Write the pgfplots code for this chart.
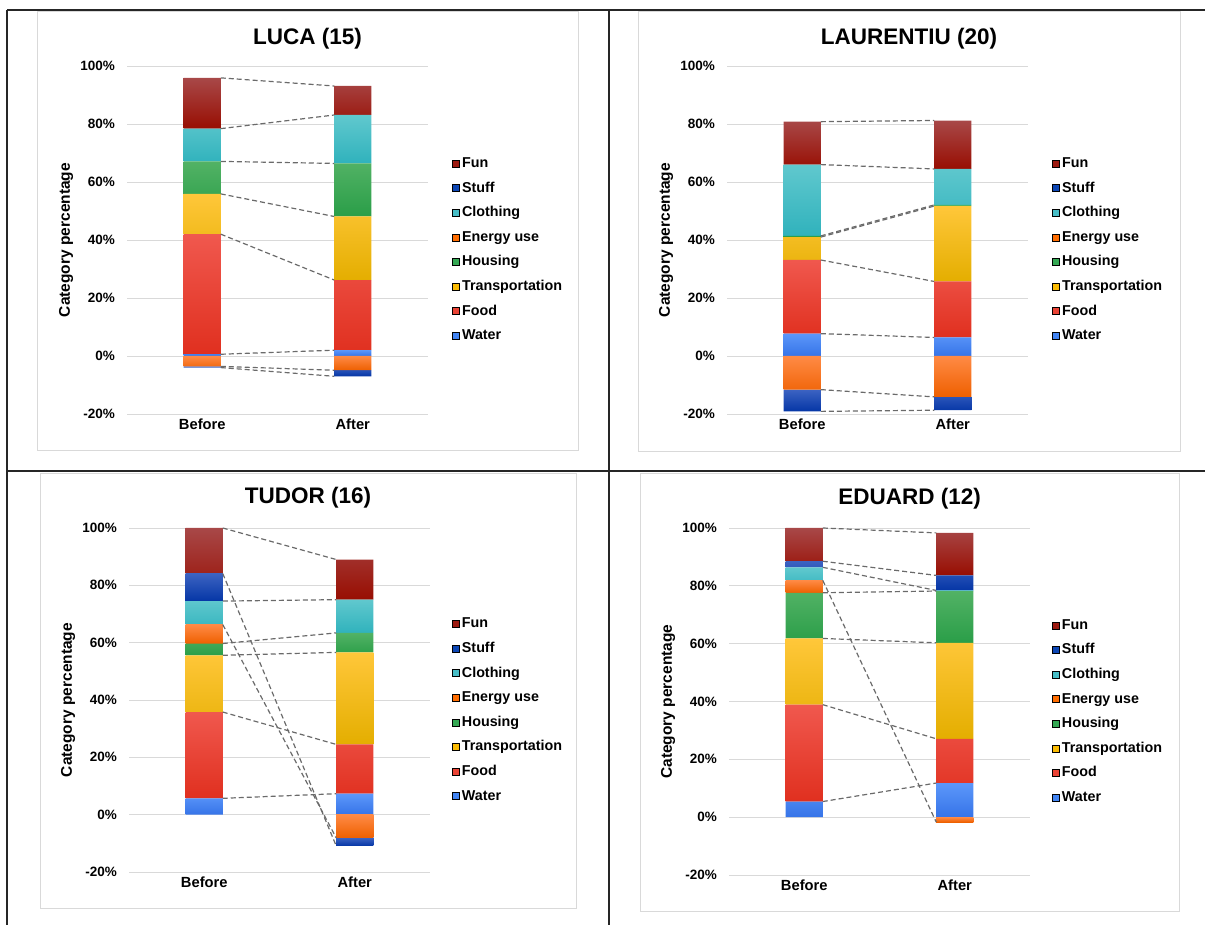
\documentclass[border=0pt]{standalone}
\usepackage{fontspec}
\setmainfont{Liberation Sans}
\usepackage{pgfplots}
\pgfplotsset{compat=1.18}
% colours (top / bottom of gradient, legend colour)
\definecolor{Wt}{HTML}{5C97FA}\definecolor{Wb}{HTML}{3674E8}\definecolor{Wl}{HTML}{4285F4}
\definecolor{Ft}{HTML}{F0584E}\definecolor{Fb}{HTML}{E0301F}\definecolor{Fl}{HTML}{EA4335}
\definecolor{Tt}{HTML}{FFC73A}\definecolor{Tb}{HTML}{E4AE00}\definecolor{Tl}{HTML}{FBBC04}
\definecolor{Ht}{HTML}{52B265}\definecolor{Hb}{HTML}{2A9E48}\definecolor{Hl}{HTML}{34A853}
\definecolor{Et}{HTML}{FF8A45}\definecolor{Eb}{HTML}{EE6000}\definecolor{El}{HTML}{FF6D01}
\definecolor{Ct}{HTML}{60C8CE}\definecolor{Cb}{HTML}{30B2BC}\definecolor{Cl}{HTML}{46BDC6}
\definecolor{St}{HTML}{3C63C2}\definecolor{Sb}{HTML}{0536A6}\definecolor{Sl}{HTML}{0D47B5}
\definecolor{Xt}{HTML}{A84848}\definecolor{Xb}{HTML}{980E02}\definecolor{Xl}{HTML}{9C1A10}
\definecolor{gridc}{HTML}{D9D9D9}
\definecolor{boxc}{HTML}{D9D9D9}
\definecolor{slc}{HTML}{6A6A6A}
\definecolor{tabc}{HTML}{262626}
\newcommand\tickf{\fontsize{13.5}{15}\selectfont\bfseries}
\newcommand\labf{\fontsize{14.7}{16}\selectfont\bfseries}
\newcommand\ylabf{\fontsize{15.5}{17}\selectfont\bfseries}
\newcommand\legf{\fontsize{14.3}{16}\selectfont\bfseries}
\newcommand\titf{\fontsize{22.5}{25}\selectfont\bfseries}
\pgfplotsset{
  base/.style={
    scale only axis, width=301pt,
    xmin=-0.5, xmax=1.5, ymin=-20, ymax=100,
    ybar stacked, bar width=0.246,
  },
  panel/.style={base,
    xtick={0,1}, xticklabels={Before,After},
    ytick={-20,0,20,40,60,80,100},
    yticklabels={-20\%,0\%,20\%,40\%,60\%,80\%,100\%},
    axis line style={draw=none}, major tick length=0pt,
    ymajorgrids, grid style={draw=gridc, line width=0.9pt},
    yticklabel style={font=\tickf, anchor=east, inner sep=0pt, xshift=-12pt},
    xticklabel style={font=\labf, anchor=base, inner sep=0pt, yshift=-16pt},
    ylabel={Category percentage},
    every axis y label/.style={at={(axis description cs:-0.2027,0.5)}, rotate=90, anchor=center, font=\ylabf},
    every axis title/.style={font=\titf, anchor=base, inner sep=0pt},
    legend style={draw=none, fill=none, inner sep=0pt, font=\legf,
      anchor=west, cells={anchor=west},
      nodes={inner sep=0pt, text height=10pt, text depth=3pt},
      row sep=11.6pt},
    legend image code/.code={\fill[##1] (0pt,-3pt) rectangle (7pt,4pt);},
  },
  negpanel/.style={base, hide axis},
  lnpanel/.style={scale only axis, width=301pt,
    xmin=-0.5, xmax=1.5, ymin=-20, ymax=100, hide axis},
  sline/.style={forget plot, sharp plot, no marks, draw=slc,
    line width=1.2pt, dash pattern=on 5pt off 3pt},
  legendset/.code={
    \addlegendimage{fill=Xl}\addlegendentry{\,Fun}
    \addlegendimage{fill=Sl}\addlegendentry{\,Stuff}
    \addlegendimage{fill=Cl}\addlegendentry{\,Clothing}
    \addlegendimage{fill=El}\addlegendentry{\,Energy use}
    \addlegendimage{fill=Hl}\addlegendentry{\,Housing}
    \addlegendimage{fill=Tl}\addlegendentry{\,Transportation}
    \addlegendimage{fill=Fl}\addlegendentry{\,Food}
    \addlegendimage{fill=Wl}\addlegendentry{\,Water}
  },
}
\begin{document}
\begin{tikzpicture}[x=1pt,y=1pt]
\path[use as bounding box] (0,0) rectangle (1205,925);
% table rules
\draw[tabc, line width=1.5pt] (7,915) -- (1205,915);
\draw[tabc, line width=1.5pt] (7,454) -- (1205,454);
\draw[tabc, line width=1.5pt] (7,0) -- (7,915);
\draw[tabc, line width=1.5pt] (609,0) -- (609,915);
% chart boxes
\draw[boxc, line width=1pt] (37,474) rectangle (578,913);
\draw[boxc, line width=1pt] (638,473) rectangle (1180,913);
\draw[boxc, line width=1pt] (40,16) rectangle (576,451);
\draw[boxc, line width=1pt] (640,13) rectangle (1179,451);

% ================= LUCA (15)
\begin{axis}[panel, height=348pt, at={(127pt,511pt)}, anchor=south west,
  title={LUCA (15)}, title style={at={(axis description cs:0.5997,1.063)}},
  legend style={at={(axis description cs:1.08,0.471)}}]
\addplot[forget plot, draw=none, top color=Wt, bottom color=Wb] coordinates {(0,0.6) (1,2.0)};
\addplot[forget plot, draw=none, top color=Ft, bottom color=Fb] coordinates {(0,41.4) (1,24.2)};
\addplot[forget plot, draw=none, top color=Tt, bottom color=Tb] coordinates {(0,13.9) (1,21.9)};
\addplot[forget plot, draw=none, top color=Ht, bottom color=Hb] coordinates {(0,11.2) (1,18.3)};
\addplot[forget plot, draw=none, top color=Et, bottom color=Eb] coordinates {(0,0) (1,0)};
\addplot[forget plot, draw=none, top color=Ct, bottom color=Cb] coordinates {(0,11.3) (1,16.7)};
\addplot[forget plot, draw=none, top color=St, bottom color=Sb] coordinates {(0,0) (1,0)};
\addplot[forget plot, draw=none, top color=Xt, bottom color=Xb] coordinates {(0,17.5) (1,10.0)};
\pgfplotsset{legendset}
\end{axis}
\begin{axis}[negpanel, height=348pt, at={(127pt,511pt)}, anchor=south west]
\addplot[forget plot, draw=none, top color=Et, bottom color=Eb] coordinates {(0,-3.6) (1,-4.9)};
\addplot[forget plot, draw=none, top color=St, bottom color=Sb] coordinates {(0,-0.4) (1,-2.1)};
\end{axis}
\begin{axis}[lnpanel, height=348pt, at={(127pt,511pt)}, anchor=south west]
\addplot[sline] coordinates {(0.123,0.6) (0.877,2.0)};
\addplot[sline] coordinates {(0.123,42.0) (0.877,26.2)};
\addplot[sline] coordinates {(0.123,55.9) (0.877,48.1)};
\addplot[sline] coordinates {(0.123,67.1) (0.877,66.4)};
\addplot[sline] coordinates {(0.123,78.4) (0.877,83.1)};
\addplot[sline] coordinates {(0.123,95.9) (0.877,93.1)};
\addplot[sline] coordinates {(0.123,-3.6) (0.877,-4.9)};
\addplot[sline] coordinates {(0.123,-4.0) (0.877,-7.0)};
\end{axis}

% ================= LAURENTIU (20)
\begin{axis}[panel, height=348pt, at={(727pt,511pt)}, anchor=south west,
  title={LAURENTIU (20)}, title style={at={(axis description cs:0.605,1.063)}},
  legend style={at={(axis description cs:1.08,0.471)}}]
\addplot[forget plot, draw=none, top color=Wt, bottom color=Wb] coordinates {(0,7.7) (1,6.4)};
\addplot[forget plot, draw=none, top color=Ft, bottom color=Fb] coordinates {(0,25.4) (1,19.3)};
\addplot[forget plot, draw=none, top color=Tt, bottom color=Tb] coordinates {(0,7.9) (1,26.0)};
\addplot[forget plot, draw=none, top color=Ht, bottom color=Hb] coordinates {(0,0.4) (1,0.4)};
\addplot[forget plot, draw=none, top color=Et, bottom color=Eb] coordinates {(0,0) (1,0)};
\addplot[forget plot, draw=none, top color=Ct, bottom color=Cb] coordinates {(0,24.6) (1,12.4)};
\addplot[forget plot, draw=none, top color=St, bottom color=Sb] coordinates {(0,0) (1,0)};
\addplot[forget plot, draw=none, top color=Xt, bottom color=Xb] coordinates {(0,14.8) (1,16.7)};
\pgfplotsset{legendset}
\end{axis}
\begin{axis}[negpanel, height=348pt, at={(727pt,511pt)}, anchor=south west]
\addplot[forget plot, draw=none, top color=Et, bottom color=Eb] coordinates {(0,-11.6) (1,-14.1)};
\addplot[forget plot, draw=none, top color=St, bottom color=Sb] coordinates {(0,-7.5) (1,-4.6)};
\end{axis}
\begin{axis}[lnpanel, height=348pt, at={(727pt,511pt)}, anchor=south west]
\addplot[sline] coordinates {(0.123,7.7) (0.877,6.4)};
\addplot[sline] coordinates {(0.123,33.1) (0.877,25.7)};
\addplot[sline] coordinates {(0.123,41.0) (0.877,51.7)};
\addplot[sline] coordinates {(0.123,41.4) (0.877,52.1)};
\addplot[sline] coordinates {(0.123,66.0) (0.877,64.5)};
\addplot[sline] coordinates {(0.123,80.8) (0.877,81.2)};
\addplot[sline] coordinates {(0.123,-11.6) (0.877,-14.1)};
\addplot[sline] coordinates {(0.123,-19.1) (0.877,-18.7)};
\end{axis}

% ================= TUDOR (16)
\begin{axis}[panel, height=344pt, at={(129pt,53pt)}, anchor=south west,
  title={TUDOR (16)}, title style={at={(axis description cs:0.595,1.070)}},
  legend style={at={(axis description cs:1.073,0.4695)}}]
\addplot[forget plot, draw=none, top color=Wt, bottom color=Wb] coordinates {(0,5.7) (1,7.3)};
\addplot[forget plot, draw=none, top color=Ft, bottom color=Fb] coordinates {(0,30.1) (1,17.2)};
\addplot[forget plot, draw=none, top color=Tt, bottom color=Tb] coordinates {(0,19.8) (1,32.1)};
\addplot[forget plot, draw=none, top color=Ht, bottom color=Hb] coordinates {(0,4.1) (1,6.8)};
\addplot[forget plot, draw=none, top color=Et, bottom color=Eb] coordinates {(0,6.6) (1,0)};
\addplot[forget plot, draw=none, top color=Ct, bottom color=Cb] coordinates {(0,8.2) (1,11.6)};
\addplot[forget plot, draw=none, top color=St, bottom color=Sb] coordinates {(0,9.6) (1,0)};
\addplot[forget plot, draw=none, top color=Xt, bottom color=Xb] coordinates {(0,15.9) (1,14.0)};
\pgfplotsset{legendset}
\end{axis}
\begin{axis}[negpanel, height=344pt, at={(129pt,53pt)}, anchor=south west]
\addplot[forget plot, draw=none, top color=Et, bottom color=Eb] coordinates {(0,0) (1,-8.1)};
\addplot[forget plot, draw=none, top color=St, bottom color=Sb] coordinates {(0,0) (1,-2.8)};
\end{axis}
\begin{axis}[lnpanel, height=344pt, at={(129pt,53pt)}, anchor=south west]
\addplot[sline] coordinates {(0.123,5.7) (0.877,7.3)};
\addplot[sline] coordinates {(0.123,35.8) (0.877,24.5)};
\addplot[sline] coordinates {(0.123,55.6) (0.877,56.6)};
\addplot[sline] coordinates {(0.123,59.7) (0.877,63.4)};
\addplot[sline] coordinates {(0.123,66.3) (0.877,-8.1)};
\addplot[sline] coordinates {(0.123,74.5) (0.877,75.0)};
\addplot[sline] coordinates {(0.123,84.1) (0.877,-10.9)};
\addplot[sline] coordinates {(0.123,100.0) (0.877,89.0)};
\end{axis}

% ================= EDUARD (12)
\begin{axis}[panel, height=347pt, at={(729pt,50pt)}, anchor=south west,
  title={EDUARD (12)}, title style={at={(axis description cs:0.600,1.069)}},
  legend style={at={(axis description cs:1.073,0.470)}}]
\addplot[forget plot, draw=none, top color=Wt, bottom color=Wb] coordinates {(0,5.4) (1,11.8)};
\addplot[forget plot, draw=none, top color=Ft, bottom color=Fb] coordinates {(0,33.5) (1,15.3)};
\addplot[forget plot, draw=none, top color=Tt, bottom color=Tb] coordinates {(0,22.9) (1,33.2)};
\addplot[forget plot, draw=none, top color=Ht, bottom color=Hb] coordinates {(0,15.8) (1,17.9)};
\addplot[forget plot, draw=none, top color=Et, bottom color=Eb] coordinates {(0,4.3) (1,0)};
\addplot[forget plot, draw=none, top color=Ct, bottom color=Cb] coordinates {(0,4.5) (1,0.2)};
\addplot[forget plot, draw=none, top color=St, bottom color=Sb] coordinates {(0,2.1) (1,5.2)};
\addplot[forget plot, draw=none, top color=Xt, bottom color=Xb] coordinates {(0,11.5) (1,14.7)};
\pgfplotsset{legendset}
\end{axis}
\begin{axis}[negpanel, height=347pt, at={(729pt,50pt)}, anchor=south west]
\addplot[forget plot, draw=none, top color=Et, bottom color=Eb] coordinates {(0,0) (1,-1.7)};
\end{axis}
\begin{axis}[lnpanel, height=347pt, at={(729pt,50pt)}, anchor=south west]
\addplot[sline] coordinates {(0.123,5.4) (0.877,11.8)};
\addplot[sline] coordinates {(0.123,38.9) (0.877,27.1)};
\addplot[sline] coordinates {(0.123,61.8) (0.877,60.3)};
\addplot[sline] coordinates {(0.123,77.6) (0.877,78.2)};
\addplot[sline] coordinates {(0.123,81.9) (0.877,-1.7)};
\addplot[sline] coordinates {(0.123,86.4) (0.877,78.4)};
\addplot[sline] coordinates {(0.123,88.5) (0.877,83.6)};
\addplot[sline] coordinates {(0.123,100.0) (0.877,98.3)};
\end{axis}
\end{tikzpicture}
\end{document}
